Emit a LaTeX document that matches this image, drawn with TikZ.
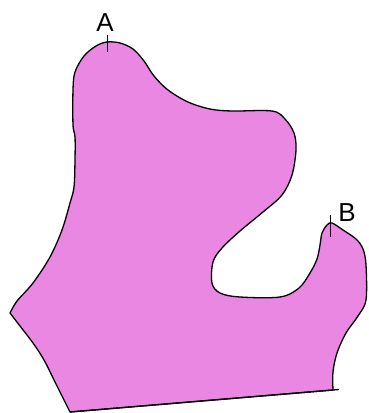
\documentclass[tikz,border=0pt]{standalone}
\usepackage{fontspec}
\setmainfont{Liberation Sans}
\definecolor{shapefill}{RGB}{233,135,227}
\tikzset{
  outline/.style={draw=black, line width=1.3pt, line join=round, fill=shapefill},
  tickmark/.style={draw=black, line width=1pt},
  ptlabel/.style={font=\fontsize{26}{26}\selectfont, inner sep=0pt}
}
\begin{document}
\begin{tikzpicture}[x=1pt,y=-1pt]
\useasboundingbox (0,0) rectangle (368,413);
\path[outline] (70,412) -- plot[smooth, tension=0.55] coordinates {
 (70,412) (55,382) (44,360) (33,343) (20,326) (10,313)}
 -- plot[smooth, tension=0.55] coordinates {
 (10,313) (17,301) (33,283) (50,257) (62,230) (70,203) (74,187) (75,160) (75,137)
 (73,125) (73,90) (75,72) (84,56) (96,46) (107,42) (120,43) (133,49) (144,61)
 (154,76) (168,90) (188,102) (210,109) (232,111) (272,111) (285,119) (294,133)
 (296,150) (292,175) (282,195) (263,212) (240,231) (222,248) (213,262) (212,283)
 (220,293) (240,297) (280,297) (299,288) (310,273) (317,259) (320,245) (322,233)
 (327,225) (332,223) (343,230) (356,239) (363,249) (366,265) (366,300) (358,316)
 (346,333) (337,353) (333,372) (333,390)}
 -- cycle;
\coordinate (bl) at (70,412);
\coordinate (br) at (339,389.5);
\draw[line width=1.3pt] (bl) -- (br);
\coordinate (ta1) at (107,35);
\coordinate (ta2) at (107,52);
\draw[tickmark] (ta1) -- (ta2);
\coordinate (tb1) at (330,215);
\coordinate (tb2) at (330,237);
\draw[tickmark] (tb1) -- (tb2);
\node[ptlabel] (A) at (105,22.5) {A};
\node[ptlabel] (B) at (347,212.5) {B};
\end{tikzpicture}
\end{document}
